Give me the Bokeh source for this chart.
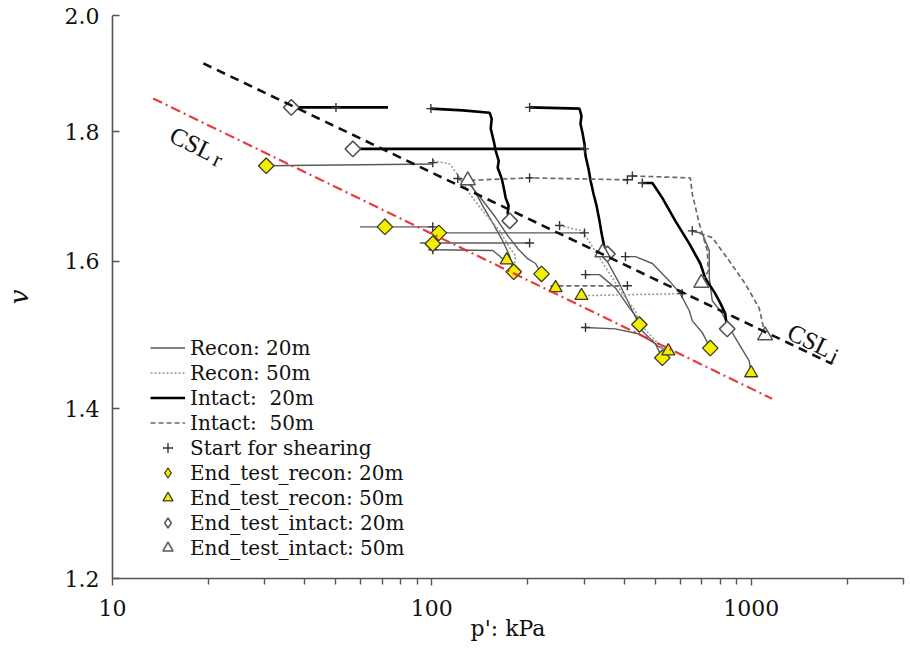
from bokeh.plotting import figure
from bokeh.models import Range1d, FixedTicker, PrintfTickFormatter, Legend, LegendItem
from bokeh.core.properties import value
from bokeh.embed import file_html
from bokeh.resources import INLINE

# ---------------- data (p' in kPa, specific volume v) ----------------
# Recon 20m paths
recon20_p = [
    [100.7, 30.3],
    [100.7, 59.6],
    [300.7, 105.2],
    [202.4, 91.7],
    [102.9, 155.1, 163.1, 169.1],
    [120.6, 132.4, 144.3, 158.5, 172.8, 185.7, 199.5, 211.3, 220.6],
    [403.9, 434.1, 490.6, 554.3, 600.0, 640.2, 654.3, 703.1, 744.8],
    [302.9, 335.0, 375.8, 415.7, 446.7, 446.7],
    [302.9, 375.8, 446.7, 501.2, 527.0],
    [129.6, 134.3, 144.3, 155.1, 166.7, 175.4, 180.5],
    [342.3, 386.8, 424.7, 456.2, 508.5, 550.4],
    [654.3, 703.1, 739.5, 739.5, 755.5, 811.6, 891.3, 985.7, 1000.0],
]
recon20_v = [
    [1.748, 1.745],
    [1.651, 1.651],
    [1.642, 1.642],
    [1.627, 1.627],
    [1.617, 1.616, 1.608, 1.601],
    [1.725, 1.714, 1.691, 1.665, 1.638, 1.619, 1.604, 1.597, 1.582],
    [1.607, 1.607, 1.597, 1.572, 1.554, 1.530, 1.516, 1.500, 1.479],
    [1.581, 1.581, 1.562, 1.534, 1.516, 1.511],
    [1.507, 1.505, 1.498, 1.485, 1.466],
    [1.722, 1.711, 1.683, 1.657, 1.630, 1.608, 1.585],
    [1.613, 1.568, 1.530, 1.502, 1.482, 1.475],
    [1.645, 1.641, 1.616, 1.576, 1.544, 1.526, 1.493, 1.462, 1.446],
]

# Recon 50m paths
recon50_p = [
    [100.7, 113.8, 122.4, 131.5, 144.3, 163.1, 175.4, 183.0, 180.5],
    [251.2, 296.3, 314.1, 335.0, 367.8, 403.9, 434.1, 446.7, 480.1, 527.0, 550.4],
    [608.2, 294.2],
]
recon50_v = [
    [1.753, 1.748, 1.726, 1.701, 1.675, 1.645, 1.620, 1.608, 1.589],
    [1.653, 1.645, 1.626, 1.605, 1.576, 1.548, 1.530, 1.512, 1.498, 1.479, 1.475],
    [1.554, 1.551],
]

# Intact 20m paths
intact20_p = [
    [72.9, 50.1, 36.3],
    [99.3, 125.0, 151.8, 154.0, 152.9, 156.2, 158.5, 162.0, 160.8, 165.5, 167.9, 170.3, 174.0, 172.8, 175.4],
    [202.4, 290.0, 294.2, 292.1, 296.3, 300.7, 302.9, 309.6, 314.1, 321.0, 328.0, 335.0, 339.9, 347.3, 354.8],
    [300.7, 56.6],
    [456.2, 490.6, 527.0, 578.8, 640.2, 693.1, 718.4, 771.9, 800.0, 829.5, 841.4],
]
intact20_v = [
    [1.840, 1.840, 1.840],
    [1.838, 1.835, 1.831, 1.821, 1.805, 1.785, 1.769, 1.753, 1.742, 1.725, 1.711, 1.695, 1.683, 1.672, 1.660],
    [1.840, 1.838, 1.826, 1.813, 1.798, 1.780, 1.761, 1.740, 1.722, 1.701, 1.683, 1.660, 1.642, 1.620, 1.611],
    [1.772, 1.772],
    [1.718, 1.718, 1.695, 1.660, 1.626, 1.597, 1.576, 1.554, 1.541, 1.526, 1.505],
]

# Intact 50m paths
intact50_p = [
    [424.7, 644.9, 654.3, 688.1, 728.9, 734.2, 698.1],
    [409.7, 202.4, 129.6],
    [654.3, 755.5, 853.6, 957.6, 1059.0, 1082.0, 1106.0],
    [409.7, 230.4],
]
intact50_v = [
    [1.729, 1.726, 1.701, 1.656, 1.616, 1.586, 1.569],
    [1.723, 1.726, 1.722],
    [1.645, 1.635, 1.601, 1.568, 1.534, 1.516, 1.496],
    [1.565, 1.565],
]

# Start for shearing
start_p = [50.1, 99.3, 202.4, 300.7, 456.2, 424.7, 409.7, 202.4, 120.6, 100.7, 100.7,
           300.7, 202.4, 100.7, 251.2, 403.9, 302.9, 409.7, 608.2, 302.9, 654.3]
start_v = [1.840, 1.838, 1.840, 1.772, 1.718, 1.729, 1.723, 1.726, 1.725, 1.750, 1.651,
           1.642, 1.627, 1.617, 1.653, 1.607, 1.581, 1.565, 1.554, 1.507, 1.645]

# End of tests
end_recon20_p = [30.3, 71.3, 105.2, 100.7, 180.5, 220.6, 446.7, 527.0, 744.8]
end_recon20_v = [1.745, 1.651, 1.642, 1.626, 1.585, 1.582, 1.511, 1.466, 1.479]
end_recon50_p = [171.6, 244.1, 294.2, 550.4, 1000.0]
end_recon50_v = [1.602, 1.562, 1.551, 1.475, 1.446]
end_intact20_p = [36.3, 56.6, 175.4, 354.8, 841.4]
end_intact20_v = [1.840, 1.772, 1.660, 1.611, 1.505]
end_intact50_p = [129.6, 342.3, 698.1, 1106.0]
end_intact50_v = [1.722, 1.613, 1.569, 1.496]

# Critical state lines
cslr_p = [13.4, 1163.0]
cslr_v = [1.855, 1.4126]
csli_p = [19.25, 1791.0]
csli_v = [1.915, 1.458]

x_major = [10, 100, 1000]
x_minor = [20, 30, 40, 50, 60, 70, 80, 90, 200, 300, 400, 500, 600, 700, 800, 900, 2000, 3000]
y_major = [1.2, 1.4, 1.6, 1.8, 2.0]

SERIF = "DejaVu Serif"
TEXT_SERIF = "Liberation Serif, Times New Roman, DejaVu Serif, serif"

p = figure(width=909, height=648, x_axis_type="log", y_axis_type="log",
           x_range=Range1d(10, 3000), y_range=Range1d(1.2, 2.0),
           output_backend="svg", toolbar_location=None,
           min_border_left=110, min_border_right=6, min_border_top=15, min_border_bottom=70)
p.outline_line_color = None
p.grid.visible = False
p.background_fill_color = "white"

# axes
p.xaxis.ticker = FixedTicker(ticks=x_major, minor_ticks=x_minor)
p.yaxis.ticker = FixedTicker(ticks=y_major, minor_ticks=[])
p.xaxis.formatter = PrintfTickFormatter(format="%d")
p.yaxis.formatter = PrintfTickFormatter(format="%.1f")
for ax in (p.xaxis[0], p.yaxis[0]):
    ax.axis_line_color = "#555555"
    ax.axis_line_width = 1.6
    ax.major_tick_line_color = "#555555"
    ax.major_tick_line_width = 1.4
    ax.minor_tick_line_color = "#555555"
    ax.minor_tick_line_width = 1.4
    ax.major_label_text_font = SERIF
    ax.major_label_text_font_size = "22px"
    ax.major_label_text_color = "#111111"
    ax.axis_label_text_font = SERIF
    ax.axis_label_text_color = "#111111"
p.xaxis.major_tick_out = 7
p.xaxis.major_tick_in = 0
p.xaxis.minor_tick_out = 6
p.xaxis.minor_tick_in = 0
p.xaxis.major_label_standoff = 14
p.xaxis.axis_label = "p': kPa"
p.xaxis.axis_label_text_font_size = "22px"
p.xaxis.axis_label_text_font_style = "normal"
p.xaxis.axis_label_standoff = -3
p.yaxis.major_tick_in = 7
p.yaxis.major_tick_out = 0
p.yaxis.minor_tick_in = 0
p.yaxis.minor_tick_out = 0
p.yaxis.major_label_standoff = 13
p.yaxis.axis_label = "v"
p.yaxis.axis_label_text_font_style = "italic"
p.yaxis.axis_label_text_font_size = "26px"
p.yaxis.axis_label_standoff = 28

# data paths
r_rec20 = p.multi_line(recon20_p, recon20_v, line_color="#5a5a5a", line_width=1.4)
r_rec50 = p.multi_line(recon50_p, recon50_v, line_color="#9a9a9a", line_width=1.6, line_dash="2 2")
r_int20 = p.multi_line(intact20_p, intact20_v, line_color="#000000", line_width=2.6)
r_int50 = p.multi_line(intact50_p, intact50_v, line_color="#6a6a6a", line_width=1.7, line_dash="5 3")

# markers
r_start = p.scatter(start_p, start_v, marker="cross", size=9, line_color="#333333", line_width=1.4)
p.scatter(end_recon20_p, end_recon20_v, marker="square", angle=0.785, size=11,
          fill_color="#f4ee00", line_color="#3a3a20", line_width=1.3)
r_er50 = p.scatter(end_recon50_p, end_recon50_v, marker="triangle", size=13,
                   fill_color="#f4ee00", line_color="#3a3a20", line_width=1.3)
p.scatter(end_intact20_p, end_intact20_v, marker="square", angle=0.785, size=11,
          fill_color="white", line_color="#555555", line_width=1.5)
r_ei50 = p.scatter(end_intact50_p, end_intact50_v, marker="triangle", size=15,
                   fill_color="white", line_color="#555555", line_width=1.5)
# legend-only diamond glyphs (point placed outside the visible ranges)
legend_dummy_p = [5.0]
legend_dummy_v = [1.1]
r_er20 = p.scatter(legend_dummy_p, legend_dummy_v, marker="diamond", size=12,
                   fill_color="#f4ee00", line_color="#3a3a20", line_width=1.3)
r_ei20 = p.scatter(legend_dummy_p, legend_dummy_v, marker="diamond", size=12,
                   fill_color="white", line_color="#555555", line_width=1.5)

# critical state lines
p.line(cslr_p, cslr_v, line_color="#e3262d", line_width=2.2, line_dash="10 4 2 4", line_alpha=0.9)
p.line(csli_p, csli_v, line_color="#111111", line_width=2.6, line_dash="9 6")

ang = -0.45
p.text(x=[15.3], y=[1.797], text=["CSL"], angle=ang, text_font=value(TEXT_SERIF),
       text_font_size="25px", text_color="#111111", text_align="left", text_baseline="alphabetic")
p.text(x=[20.9], y=[1.758], text=["r"], angle=ang, text_font=value(TEXT_SERIF),
       text_font_size="22px", text_color="#111111", text_align="left", text_baseline="alphabetic")
p.text(x=[1315.0], y=[1.503], text=["CSL"], angle=ang, text_font=value(TEXT_SERIF),
       text_font_size="25px", text_color="#111111", text_align="left", text_baseline="alphabetic")
p.text(x=[1790.0], y=[1.470], text=["i"], angle=ang, text_font=value(TEXT_SERIF),
       text_font_size="22px", text_color="#111111", text_align="left", text_baseline="alphabetic")

legend = Legend(items=[
    LegendItem(label="Recon: 20m", renderers=[r_rec20]),
    LegendItem(label="Recon: 50m", renderers=[r_rec50]),
    LegendItem(label="Intact:  20m", renderers=[r_int20]),
    LegendItem(label="Intact:  50m", renderers=[r_int50]),
    LegendItem(label="Start for shearing", renderers=[r_start]),
    LegendItem(label="End_test_recon: 20m", renderers=[r_er20]),
    LegendItem(label="End_test_recon: 50m", renderers=[r_er50]),
    LegendItem(label="End_test_intact: 20m", renderers=[r_ei20]),
    LegendItem(label="End_test_intact: 50m", renderers=[r_ei50]),
], location=(38, 18))
legend.label_text_font = SERIF
legend.label_text_font_size = "20px"
legend.label_text_color = "#111111"
legend.glyph_width = 35
legend.glyph_height = 25
legend.label_height = 25
legend.label_standoff = 5
legend.spacing = 0
legend.padding = 0
legend.margin = 0
legend.border_line_color = None
legend.background_fill_alpha = 0
p.add_layout(legend)

open("out.html", "w").write(file_html(p, INLINE))
